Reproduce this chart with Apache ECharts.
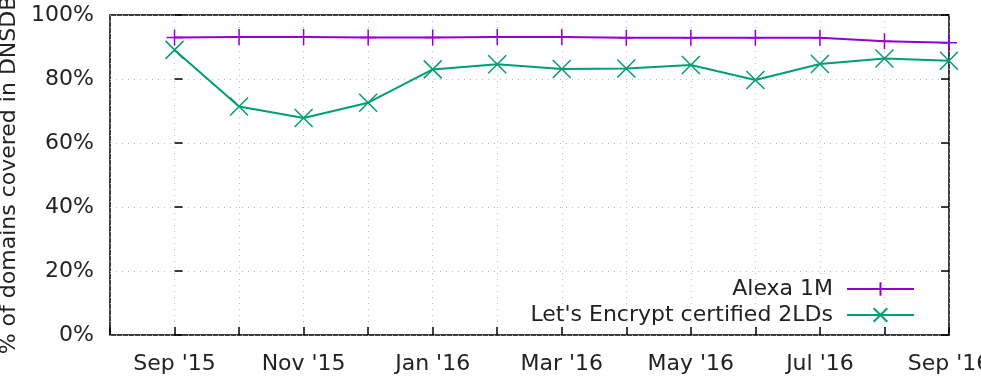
<!DOCTYPE html>
<html>
<head>
<meta charset="utf-8">
<script src="https://cdn.jsdelivr.net/npm/echarts@6/dist/echarts.min.js"></script>
<style>
  html, body { margin: 0; padding: 0; background: #fff; }
  #chart { width: 981px; height: 381px; }
</style>
</head>
<body>
<div id="chart"></div>
<script>
// months, one point per month (index 0 = Sep '15)
var months = ["Sep '15", "Oct '15", "Nov '15", "Dec '15", "Jan '16", "Feb '16", "Mar '16",
  "Apr '16", "May '16", "Jun '16", "Jul '16", "Aug '16", "Sep '16"];
var alexa = [93.0, 93.1, 93.1, 93.0, 93.0, 93.1, 93.1, 92.9, 92.9, 92.9, 92.9, 91.8, 91.3];
var letsEncrypt = [89.1, 71.4, 67.8, 72.6, 83.0, 84.6, 83.1, 83.3, 84.4, 79.7, 84.7, 86.4, 85.7];
var yTicks = [0, 20, 40, 60, 80, 100];

var FONT = 'DejaVu Sans';
var PURPLE = '#9400d3';
var GREEN = '#009e73';

var plusPath = 'path://M0,5L10,5M5,0L5,10';
var crossPath = 'path://M0,0L10,10M10,0L0,10';

function pairs(vals) {
  return vals.map(function(v, i) { return [i, v]; });
}

var chart = echarts.init(document.getElementById('chart'));
chart.setOption({
  animation: false,
  textStyle: { fontFamily: FONT },
  grid: {
    left: 110, right: 32, top: 15, bottom: 46,
    outerBoundsMode: 'none',
    containLabel: false,
    show: true, borderColor: '#000', borderWidth: 1.5, backgroundColor: 'transparent'
  },
  legend: {
    orient: 'vertical',
    right: 61,
    top: 273,
    align: 'right',
    itemWidth: 67,
    itemHeight: 17,
    itemGap: 4,
    textStyle: { fontFamily: FONT, fontSize: 22, color: '#222', padding: [0, 9, 0, 0] },
    data: ['Alexa 1M', "Let's Encrypt certified 2LDs"]
  },
  xAxis: {
    type: 'value',
    min: -1,
    max: 12,
    interval: 1,
    axisLine: { show: false },
    axisTick: { show: true, inside: true, length: 8, lineStyle: { color: '#000', width: 1.5 } },
    axisLabel: {
      fontFamily: FONT, fontSize: 22, color: '#222', margin: 18,
      formatter: function(v) { return (v >= 0 && v % 2 === 0) ? months[v] : ''; }
    },
    splitLine: { show: true, lineStyle: { color: '#bbb', width: 1, type: [1, 5] } }
  },
  yAxis: [{
    type: 'value',
    min: 0,
    max: 100,
    interval: 20,
    name: '% of domains covered in DNSDB',
    nameLocation: 'middle',
    nameGap: 84,
    nameTextStyle: { fontFamily: FONT, fontSize: 22, color: '#222' },
    axisLine: { show: false },
    axisTick: { show: true, inside: true, length: 8, lineStyle: { color: '#000', width: 1.5 } },
    axisLabel: {
      fontFamily: FONT, fontSize: 22, color: '#222', margin: 16,
      formatter: function(v) { return yTicks.indexOf(v) >= 0 ? v + '%' : ''; }
    },
    splitLine: { show: true, lineStyle: { color: '#bbb', width: 1, type: [1, 5] } }
  }, {
    type: 'value',
    position: 'right',
    min: 0,
    max: 100,
    interval: 20,
    axisLine: { show: false },
    axisTick: { show: true, inside: true, length: 8, lineStyle: { color: '#000', width: 1.5 } },
    axisLabel: { show: false },
    splitLine: { show: false }
  }],
  series: [{
    name: 'Alexa 1M',
    type: 'line',
    data: pairs(alexa),
    symbol: plusPath,
    symbolSize: 16,
    lineStyle: { color: PURPLE, width: 2 },
    itemStyle: { color: 'none', borderColor: PURPLE, borderWidth: 1.5 }
  }, {
    name: "Let's Encrypt certified 2LDs",
    type: 'line',
    data: pairs(letsEncrypt),
    symbol: crossPath,
    symbolSize: 18,
    lineStyle: { color: GREEN, width: 2 },
    itemStyle: { color: 'none', borderColor: GREEN, borderWidth: 1.5 }
  }]
});
</script>
</body>
</html>
